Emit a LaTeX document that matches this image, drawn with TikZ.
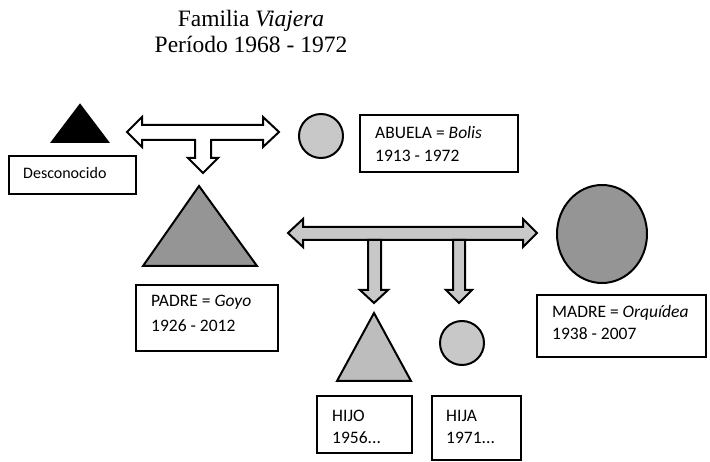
\documentclass[tikz,border=0pt]{standalone}
\usepackage{fontspec}
\setmainfont{Liberation Serif}
\newfontfamily\boxfont{Carlito}
\begin{document}
\begin{tikzpicture}[x=1pt,y=-1pt,
  shp/.style={draw=black,line width=2pt,line join=miter},
  boxr/.style={draw=black,line width=1.4pt,fill=white},
  txt/.style={anchor=base west,inner sep=0pt,font=\boxfont\fontsize{17.5}{21}\selectfont},
  ttl/.style={anchor=base,inner sep=0pt,font=\fontsize{23.5}{26}\selectfont}]
\useasboundingbox (0,0) rectangle (710,462);
\definecolor{lgray}{HTML}{C8C8C8}
\definecolor{mgray}{HTML}{959595}
\definecolor{hgray}{HTML}{BDBDBD}
% title
\node[ttl] (t1) at (251,27) {Familia \textit{Viajera}};
\node[ttl] (t2) at (251,53) {Período 1968 - 1972};
% top white T-arrow
\draw[shp,fill=white] (127,132) -- (142,117) -- (142,125) -- (263,125) -- (263,117) -- (279,132)
  -- (263,147) -- (263,140) -- (211,140) -- (211,158) -- (218,158) -- (203,173) -- (188,158)
  -- (195,158) -- (195,140) -- (142,140) -- (142,147) -- cycle;
% big gray horizontal arrow
\draw[shp,fill=lgray] (288,233) -- (303,219) -- (303,227) -- (523,227) -- (523,219) -- (537,233)
  -- (523,247) -- (523,240) -- (303,240) -- (303,247) -- cycle;
% down arrows
\draw[shp,fill=lgray] (368,240) -- (381,240) -- (381,290) -- (388,290) -- (374,303) -- (360,290) -- (368,290) -- cycle;
\draw[shp,fill=lgray] (453,240) -- (465,240) -- (465,290) -- (472,290) -- (459,303) -- (446,290) -- (453,290) -- cycle;
% shapes
\draw[shp,fill=black] (80,105) -- (108,142) -- (52,142) -- cycle;
\draw[shp,fill=lgray] (321,136) circle[radius=22];
\draw[shp,fill=mgray] (199,186) -- (257,266) -- (143,266) -- cycle;
\draw[shp,fill=mgray] (602,234) ellipse[x radius=45,y radius=49];
\draw[shp,fill=hgray] (374,313) -- (411,381) -- (337,381) -- cycle;
\draw[shp,fill=lgray] (462,343) circle[radius=22];
% boxes
\draw[boxr] (9,156) rectangle (136,194);
\node[txt,font=\boxfont\fontsize{16}{19}\selectfont] (desc) at (23,179) {Desconocido};
\draw[boxr] (360,115) rectangle (518,172);
\node[txt] (ab1) at (375,139) {ABUELA = \textit{Bolis}};
\node[txt] (ab2) at (375,162) {1913 - 1972};
\draw[boxr] (136,285) rectangle (278,351);
\node[txt] (pa1) at (151,307) {PADRE = \textit{Goyo}};
\node[txt] (pa2) at (151,332) {1926 - 2012};
\draw[boxr] (537,295) rectangle (706,357);
\node[txt] (ma1) at (552,318) {MADRE = \textit{Orquídea}};
\node[txt] (ma2) at (552,340) {1938 - 2007};
\draw[boxr] (317,396) rectangle (412,453);
\node[txt] (hi1) at (332,421) {HIJO};
\node[txt] (hi2) at (332,443) {1956...};
\draw[boxr] (432,396) rectangle (521,460);
\node[txt] (ha1) at (446,421) {HIJA};
\node[txt] (ha2) at (446,443) {1971...};
\end{tikzpicture}
\end{document}
